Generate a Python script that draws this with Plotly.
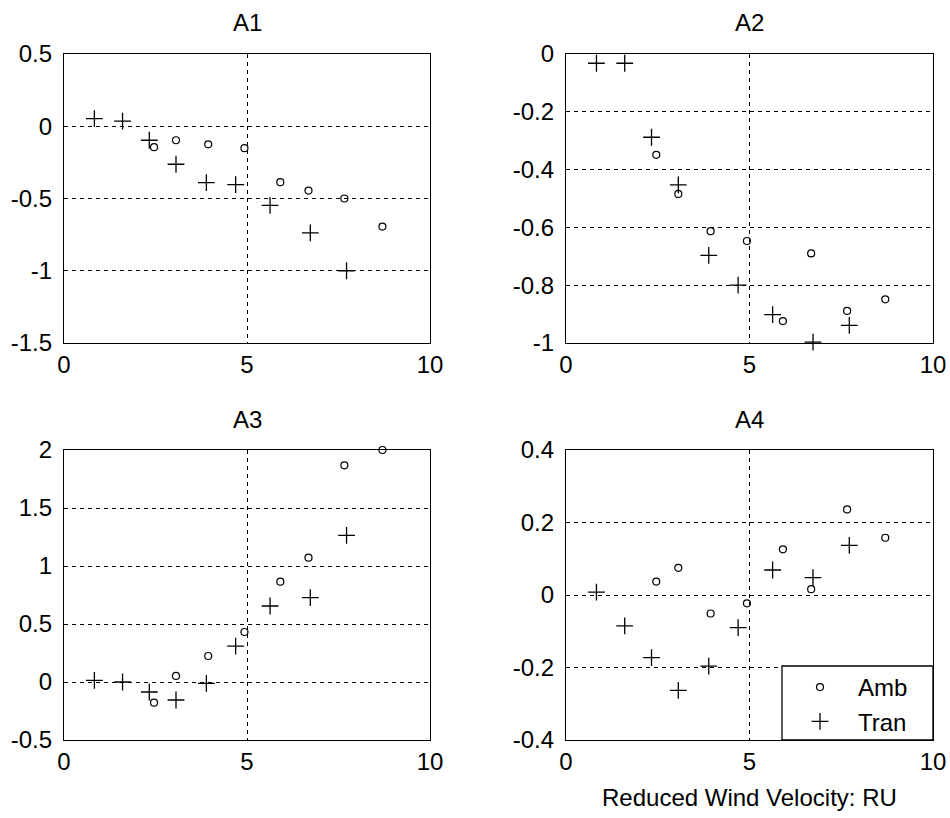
import plotly.graph_objects as go

# ---- data ----
tran_x = [0.83, 1.6, 2.33, 3.06, 3.89, 4.69, 5.63, 6.73, 7.72]
amb_x = [2.46, 3.06, 3.94, 4.93, 5.91, 6.68, 7.66, 8.70]

a1_tran = [0.053, 0.035, -0.097, -0.263, -0.39, -0.404, -0.547, -0.738, -1.0]
a1_amb = [-0.145, -0.097, -0.125, -0.152, -0.387, -0.445, -0.50, -0.694]

a2_tran = [-0.032, -0.032, -0.288, -0.453, -0.697, -0.80, -0.902, -0.997, -0.939]
a2_amb = [-0.349, -0.484, -0.613, -0.647, -0.924, -0.69, -0.889, -0.849]

a3_tran = [0.014, 0.0, -0.086, -0.155, -0.011, 0.31, 0.655, 0.727, 1.264]
a3_amb = [-0.178, 0.052, 0.224, 0.431, 0.865, 1.072, 1.868, 2.0]

a4_tran = [0.008, -0.085, -0.173, -0.263, -0.196, -0.09, 0.069, 0.048, 0.137]
a4_amb = [0.037, 0.075, -0.051, -0.023, 0.126, 0.016, 0.236, 0.158]

titles = ["A1", "A2", "A3", "A4"]
x_ticks = [0, 5, 10]
x_ticklabels = ["0", "5", "10"]
y_ticks = [
    [-1.5, -1, -0.5, 0, 0.5],
    [-1, -0.8, -0.6, -0.4, -0.2, 0],
    [-0.5, 0, 0.5, 1, 1.5, 2],
    [-0.4, -0.2, 0, 0.2, 0.4],
]
y_ticklabels = [
    ["-1.5", "-1", "-0.5", "0", "0.5"],
    ["-1", "-0.8", "-0.6", "-0.4", "-0.2", "0"],
    ["-0.5", "0", "0.5", "1", "1.5", "2"],
    ["-0.4", "-0.2", "0", "0.2", "0.4"],
]
y_ranges = [[-1.5, 0.5], [-1, 0], [-0.5, 2], [-0.4, 0.4]]
x_title = "Reduced Wind Velocity: RU"

W, H = 950, 818
FONT = dict(family="Liberation Sans, Arial, sans-serif", size=24, color="black")

# panel pixel boxes (left, right, top, bottom)
boxes = [
    (64, 430, 54, 343),
    (566, 933, 54, 343),
    (64, 430, 450, 740),
    (566, 933, 450, 740),
]
# legend frame box (left, right, top, bottom) in pixels
legend_box = (782, 933, 666, 740)

amb_sets = [a1_amb, a2_amb, a3_amb, a4_amb]
tran_sets = [a1_tran, a2_tran, a3_tran, a4_tran]

fig = go.Figure()
layout = dict(
    template="none",
    width=W, height=H, autosize=False,
    margin=dict(l=0, r=0, t=0, b=0, pad=0),
    paper_bgcolor="white", plot_bgcolor="white",
    font=FONT,
    showlegend=True,
    annotations=[],
)

for i in range(4):
    sfx = "" if i == 0 else str(i + 1)
    xa, ya = "x" + sfx, "y" + sfx
    l, r, t, b = boxes[i]
    fig.add_trace(go.Scatter(
        x=amb_x, y=amb_sets[i], mode="markers", name="Amb",
        xaxis=xa, yaxis=ya, cliponaxis=False,
        showlegend=(i == 3),
        marker=dict(symbol="circle-open", size=7, color="black",
                    line=dict(width=1.2, color="black")),
    ))
    fig.add_trace(go.Scatter(
        x=tran_x, y=tran_sets[i], mode="markers", name="Tran",
        xaxis=xa, yaxis=ya, cliponaxis=False,
        showlegend=(i == 3),
        marker=dict(symbol="cross-thin-open", size=12, color="black",
                    line=dict(width=1.3, color="black")),
    ))
    common = dict(
        showline=True, linecolor="black", linewidth=1.3, mirror=True,
        showgrid=True, gridcolor="black", gridwidth=1, griddash="4px,4px",
        zeroline=False, ticks="", tickfont=FONT, fixedrange=True,
        automargin=False,
    )
    xaxis = dict(
        common,
        domain=[l / W, r / W], anchor=ya, range=[0, 10],
        tickmode="array", tickvals=x_ticks, ticktext=x_ticklabels,
    )
    yaxis = dict(
        common,
        domain=[1 - b / H, 1 - t / H], anchor=xa, range=y_ranges[i],
        tickmode="array", tickvals=y_ticks[i], ticktext=y_ticklabels[i],
        ticklabelstandoff=6,
    )
    layout["xaxis" + sfx] = xaxis
    layout["yaxis" + sfx] = yaxis
    layout["annotations"].append(dict(
        text=titles[i], xref="paper", yref="paper",
        x=(l + r) / 2 / W, y=1 - (t - 31) / H,
        xanchor="center", yanchor="middle", showarrow=False, font=FONT,
    ))

l, r, t, b = boxes[3]
layout["annotations"].append(dict(
    text=x_title, xref="paper", yref="paper",
    x=(l + r) / 2 / W, y=1 - 797 / H,
    xanchor="center", yanchor="middle", showarrow=False, font=FONT,
))

lx0, lx1, ly0, ly1 = legend_box
layout["shapes"] = [dict(
    type="rect", xref="paper", yref="paper",
    x0=lx0 / W, x1=lx1 / W, y0=1 - ly1 / H, y1=1 - ly0 / H,
    fillcolor="white", line=dict(color="black", width=1.3), layer="above",
)]

layout["legend"] = dict(
    x=lx0 / W, y=1 - (ly0 - 1) / H, xanchor="left", yanchor="top",
    bgcolor="rgba(0,0,0,0)", borderwidth=0,
    font=FONT, itemwidth=66, tracegroupgap=0,
)

fig.update_layout(**layout)
fig.write_html("out.html")
